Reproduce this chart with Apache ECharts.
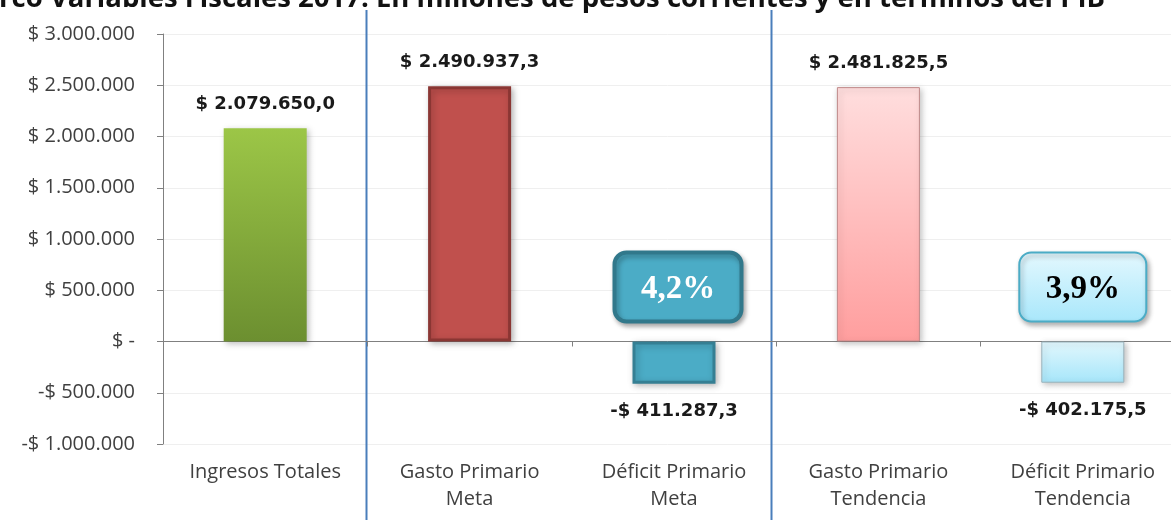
<!DOCTYPE html>
<html><head><meta charset="utf-8">
<script src="https://cdn.jsdelivr.net/npm/echarts@6/dist/echarts.min.js"></script>
<style>html,body{margin:0;padding:0;background:#fff}#c{width:1171px;height:520px}</style>
</head><body><div id="c"></div>
<script>
const titleText = 'Marco Variables Fiscales 2017: En millones de pesos corrientes y en términos del PIB';
const categories = ['Ingresos Totales', 'Gasto Primario\nMeta', 'Déficit Primario\nMeta', 'Gasto Primario\nTendencia', 'Déficit Primario\nTendencia'];
const values = [2079650.0, 2490937.3, -411287.3, 2481825.5, -402175.5];
const pibShares = ['4,2%', '3,9%']; // for Déficit Meta and Déficit Tendencia
const pibCategoryIndex = [2, 4];
const yMin = -1000000, yMax = 3000000, yStep = 500000;

function fmtNum(v, dec) {
  const neg = v < 0; v = Math.abs(v);
  let s = v.toFixed(dec);
  let [i, d] = s.split('.');
  i = i.replace(/\B(?=(\d{3})+(?!\d))/g, '.');
  return { neg, txt: d !== undefined ? i + ',' + d : i };
}
function money(v, dec) {
  if (v === 0) return '$ -';
  const r = fmtNum(v, dec);
  return (r.neg ? '-$ ' : '$ ') + r.txt;
}

const styles = [
  { color: { type: 'linear', x: 0, y: 0, x2: 0, y2: 1, colorStops: [{ offset: 0, color: '#9cc647' }, { offset: 1, color: '#6c8f30' }] }, borderWidth: 0 },
  { color: '#c0504d', borderColor: '#8a3633', borderWidth: 3 },
  { color: '#4bacc6', borderColor: '#357f93', borderWidth: 3 },
  { color: { type: 'linear', x: 0, y: 0, x2: 0, y2: 1, colorStops: [{ offset: 0, color: '#ffdede' }, { offset: 1, color: '#ff9e9e' }] }, borderColor: '#c08a8a', borderWidth: 1 },
  { color: { type: 'linear', x: 0, y: 0, x2: 0, y2: 1, colorStops: [{ offset: 0, color: '#e2f7fd' }, { offset: 1, color: '#a6e6fa' }] }, borderColor: '#9ab3bb', borderWidth: 1 }
];

const chart = echarts.init(document.getElementById('c'), null, { renderer: 'canvas' });
const option = {
  backgroundColor: '#fff',
  animation: false,
  grid: { left: 163, width: 1022, top: 34, height: 410, containLabel: false, outerBoundsMode: 'none' },
  xAxis: {
    type: 'category', data: categories,
    axisLine: { lineStyle: { color: '#808080', width: 1 }, onZero: true },
    axisTick: { show: true, length: 5, lineStyle: { color: '#808080' } },
    axisLabel: { show: false },
    splitLine: { show: false }
  },
  yAxis: {
    type: 'value', min: yMin, max: yMax, interval: yStep,
    axisLine: { show: true, lineStyle: { color: '#808080' } },
    axisTick: { show: true, length: 6, inside: false, lineStyle: { color: '#808080' } },
    axisLabel: { color: '#404040', fontSize: 20, fontFamily: '"Open Sans", Lato, sans-serif', margin: 28, formatter: v => money(v, 0) },
    splitLine: { show: true, lineStyle: { color: '#efefef', width: 1 } }
  },
  series: [{
    type: 'bar', barWidth: 83,
    data: values.map((v, i) => ({
      value: v,
      itemStyle: Object.assign({ shadowColor: 'rgba(0,0,0,0.25)', shadowBlur: 6, shadowOffsetX: 2, shadowOffsetY: 2 }, styles[i]),
      label: { position: v < 0 ? 'bottom' : 'top', distance: v < 0 ? 19 : 15 }
    })),
    label: {
      show: true, distance: 15, color: '#1a1a1a', fontWeight: 'bold', fontSize: 18,
      fontFamily: '"DejaVu Sans", Verdana, sans-serif',
      formatter: p => money(p.value, 1)
    }
  }]
};
chart.setOption(option);

function drawExtras() {
  const g = [];
  // title, cut at the top edge as in the reference
  g.push({ type: 'text', x: 1105, y: -15, style: { text: titleText, align: 'right', verticalAlign: 'top', font: 'bold 27.5px "Open Sans", sans-serif', fill: '#111' } });
  // x labels
  categories.forEach((c, i) => {
    const x = chart.convertToPixel({ xAxisIndex: 0 }, i);
    g.push({ type: 'text', x: x, y: 459, style: { text: c, align: 'center', verticalAlign: 'top', font: '20px "Open Sans", Lato, sans-serif', fill: '#404040', lineHeight: 27 } });
  });
  // separators between groups
  const p0 = chart.convertToPixel({ xAxisIndex: 0 }, 0);
  const p1 = chart.convertToPixel({ xAxisIndex: 0 }, 1);
  const half = (p1 - p0) / 2;
  [[1, 0], [3, -4]].forEach(([i, off]) => {
    const x = Math.round(chart.convertToPixel({ xAxisIndex: 0 }, i) - half + off) - 0.5;
    g.push({ type: 'line', shape: { x1: x, y1: 10, x2: x, y2: 520 }, style: { stroke: '#4a7ebb', lineWidth: 2 } });
  });
  // PIB callouts
  const zeroY = chart.convertToPixel({ yAxisIndex: 0 }, 0);
  pibCategoryIndex.forEach((ci, k) => {
    const cx = chart.convertToPixel({ xAxisIndex: 0 }, ci) + (k === 0 ? 4 : 0);
    const w = 127, h = 69;
    const y = zeroY - 89;
    const dark = k === 0;
    g.push({
      type: 'rect', shape: { x: cx - w / 2, y: y, width: w, height: h, r: 12 },
      style: {
        fill: dark ? '#4bacc6' : { type: 'linear', x: 0, y: 0, x2: 0, y2: 1, colorStops: [{ offset: 0, color: '#e4f8fe' }, { offset: 1, color: '#a8e7fb' }] },
        stroke: dark ? '#31788b' : '#4bacc6', lineWidth: dark ? 4 : 2,
        shadowColor: 'rgba(0,0,0,0.3)', shadowBlur: 5, shadowOffsetX: 2, shadowOffsetY: 3
      }
    });
    g.push({ type: 'text', x: cx, y: y + h / 2 + 2, style: { text: pibShares[k], align: 'center', verticalAlign: 'middle', font: 'bold 33px "Liberation Serif", "Times New Roman", serif', fill: dark ? '#fff' : '#000' } });
  });
  chart.setOption({ graphic: g });
}
drawExtras();
</script>
</body></html>
